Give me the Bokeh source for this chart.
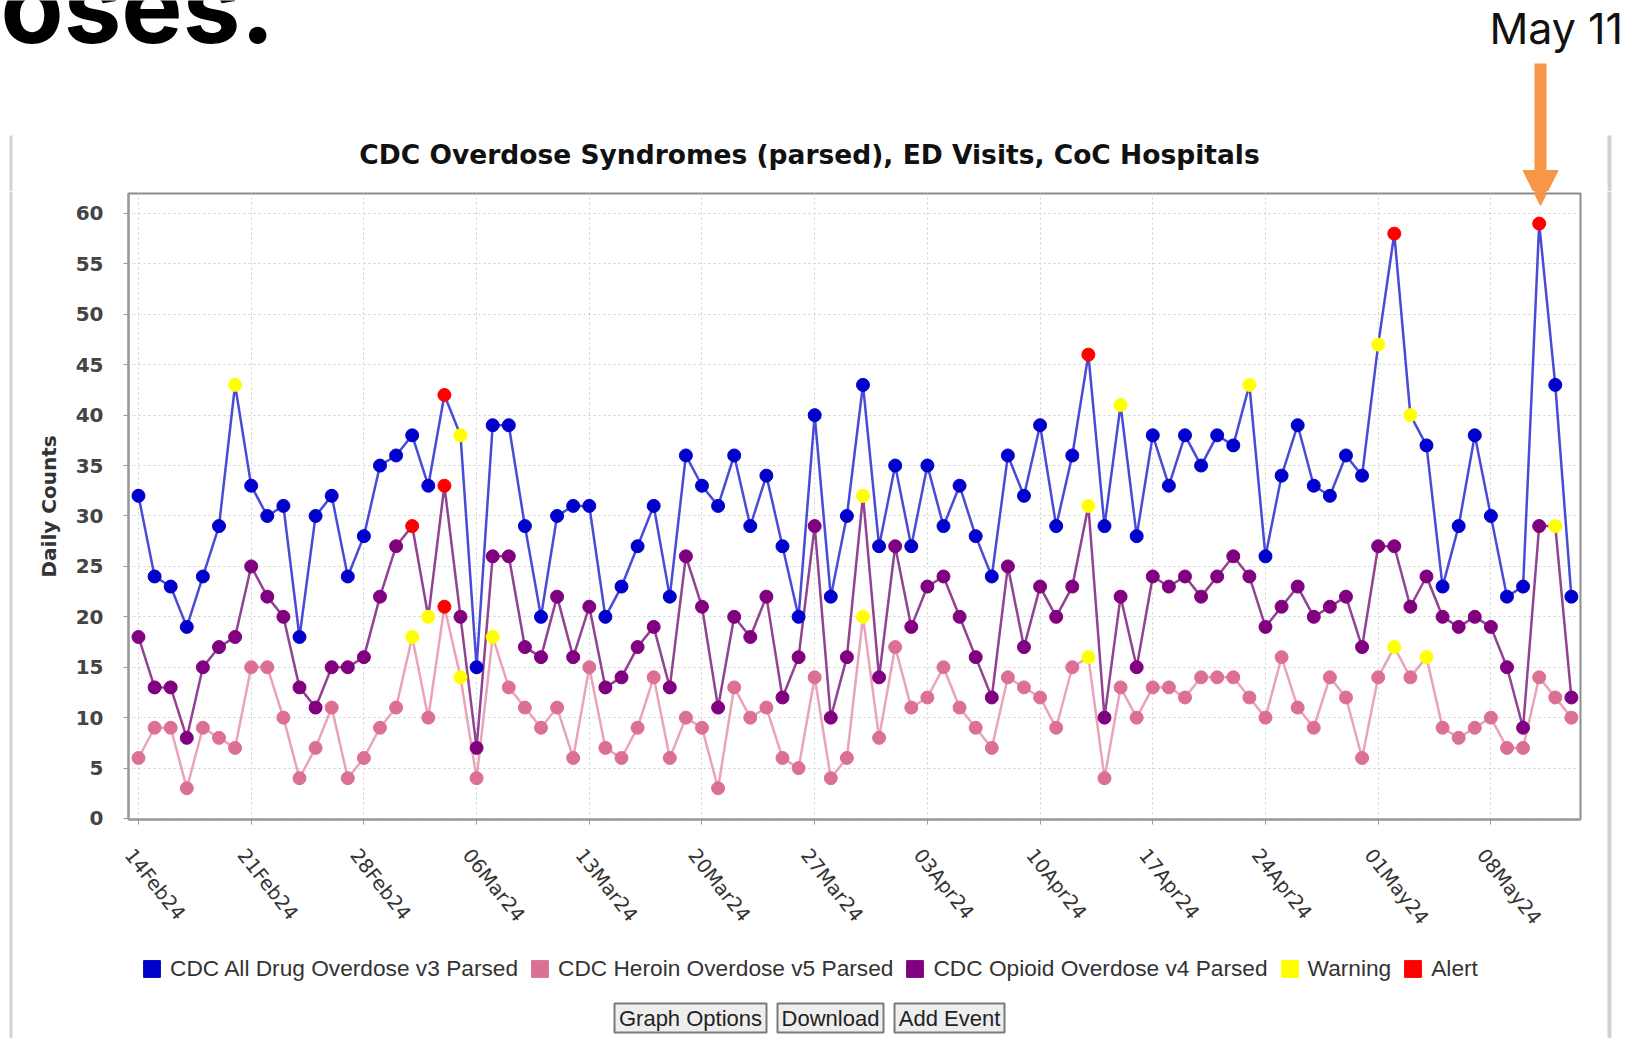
import pandas as pd
from bokeh.plotting import figure
from bokeh.layouts import column, row
from bokeh.models import (FixedTicker, Arrow, NormalHead, Legend, LegendItem,
                          ColumnDataSource, Range1d, LinearAxis, CustomJSTickFormatter,
                          CustomLabelingPolicy)
from bokeh.core.properties import value
from bokeh.embed import file_html
from bokeh.resources import INLINE

# ---------------- data ----------------
start_date = "2024-02-14"

all_drug = [32, 24, 23, 19, 24, 29, 43, 33, 30, 31, 18, 30, 32, 24, 28, 35,
            36, 38, 33, 42, 38, 15, 39, 39, 29, 20, 30, 31, 31, 20, 23,
            27, 31, 22, 36, 33, 31, 36, 29, 34, 27, 20, 40, 22, 30, 43,
            27, 35, 27, 35, 29, 33, 28, 24, 36, 32, 39, 29, 36, 46, 29,
            41, 28, 38, 33, 38, 35, 38, 37, 43, 26, 34, 39, 33, 32, 36,
            34, 47, 58, 40, 37, 23, 29, 38, 30, 22, 23, 59, 43, 22]

heroin = [6, 9, 9, 3, 9, 8, 7, 15, 15, 10, 4, 7, 11, 4, 6, 9,
          11, 18, 10, 21, 14, 4, 18, 13, 11, 9, 11, 6, 15, 7, 6,
          9, 14, 6, 10, 9, 3, 13, 10, 11, 6, 5, 14, 4, 6, 20,
          8, 17, 11, 12, 15, 11, 9, 7, 14, 13, 12, 9, 15, 16, 4,
          13, 10, 13, 13, 12, 14, 14, 14, 12, 10, 16, 11, 9, 14, 12,
          6, 14, 17, 14, 16, 9, 8, 9, 10, 7, 7, 14, 12, 10]

opioid = [18, 13, 13, 8, 15, 17, 18, 25, 22, 20, 13, 11, 15, 15, 16, 22,
          27, 29, 20, 33, 20, 7, 26, 26, 17, 16, 22, 16, 21, 13, 14,
          17, 19, 13, 26, 21, 11, 20, 18, 22, 12, 16, 29, 10, 16, 32,
          14, 27, 19, 23, 24, 20, 16, 12, 25, 17, 23, 20, 23, 31, 10,
          22, 15, 24, 23, 24, 22, 24, 26, 24, 19, 21, 23, 20, 21, 22,
          17, 27, 27, 21, 24, 20, 19, 20, 19, 15, 9, 29, 29, 12]

all_drug_alerts = ["2024-03-04", "2024-04-13", "2024-05-02", "2024-05-11"]
all_drug_warnings = ["2024-02-20", "2024-03-05", "2024-04-15", "2024-04-23", "2024-05-01", "2024-05-03"]
opioid_alerts = ["2024-03-02", "2024-03-04"]
opioid_warnings = ["2024-03-03", "2024-03-30", "2024-04-13", "2024-05-12"]
heroin_alerts = ["2024-03-04"]
heroin_warnings = ["2024-03-02", "2024-03-05", "2024-03-07", "2024-03-30", "2024-04-13", "2024-05-02", "2024-05-04"]

x_tick_dates = ["2024-02-14", "2024-02-21", "2024-02-28", "2024-03-06", "2024-03-13",
                "2024-03-20", "2024-03-27", "2024-04-03", "2024-04-10", "2024-04-17",
                "2024-04-24", "2024-05-01", "2024-05-08"]
y_ticks = [0, 5, 10, 15, 20, 25, 30, 35, 40, 45, 50, 55, 60]

legend_labels = ["CDC All Drug Overdose v3 Parsed", "CDC Heroin Overdose v5 Parsed",
                 "CDC Opioid Overdose v4 Parsed", "Warning", "Alert"]
title_text = "CDC Overdose Syndromes (parsed), ED Visits, CoC Hospitals"
y_label = "Daily Counts"
button_labels = ["Graph Options", "Download", "Add Event"]
annotation_text = "May 11"
heading_fragment = "oses."

# ---------------- styles / layout ----------------
BLUE_M, BLUE_L = "#0000cc", "#4a4ad8"
PINK_M, PINK_L = "#db7093", "#eaa3b9"
PURP_M, PURP_L = "#800080", "#924292"
WARN, ALERT = "#ffff00", "#ff0000"
ORANGE = "#f79646"
BORDER = "#d2d2d2"

W, H = 1626, 1038
TOP_H = 191                 # slide header strip
LEFT_W, RIGHT_X = 13, 1606  # chart panel column
CH_W = RIGHT_X - LEFT_W
CH_H = 752
BOT_H = H - TOP_H - CH_H
FL, FR, FT, FB = 128, 1580, 193, 819  # plot frame edges (page px)
ARROW_X = 1540
DAY_MS = 86400000
LABEL_SHIFT = -0.6 * DAY_MS  # date labels start a little left of their tick


def blank(width, height, xr, yr):
    f = figure(width=width, height=height, x_range=xr, y_range=yr,
               output_backend="svg", toolbar_location=None,
               x_axis_location=None, y_axis_location=None, min_border=0)
    f.grid.visible = False
    f.outline_line_color = None
    f.background_fill_color = "white"
    f.border_fill_color = "white"
    return f


# ---------- top strip (page px as data units, y downwards) ----------
top = blank(W, TOP_H, Range1d(0, W), Range1d(TOP_H, 0))
top.text(x=[0], y=[5], text=[heading_fragment], text_font=value("Inter"),
         text_font_style="bold", text_font_size="103px", text_color="#000000",
         text_align="left", text_baseline="alphabetic")
top.text(x=[1489], y=[27], text=[annotation_text], text_font=value("Inter"),
         text_font_size="43px", text_color="#111111",
         text_align="left", text_baseline="alphabetic")
top.text(x=[809], y=[154], text=[title_text], text_font=value("DejaVu Sans"),
         text_font_style="bold", text_font_size="26.5px", text_color="#111111",
         text_align="center", text_baseline="middle")
top.quad(left=[9, 1607], right=[12, 1611], top=[135, 135], bottom=[TOP_H, TOP_H],
         fill_color=BORDER, line_color=None)
top.add_layout(Arrow(x_start=ARROW_X, y_start=63, x_end=ARROW_X, y_end=205,
                     line_color=ORANGE, line_width=12,
                     end=NormalHead(size=35, fill_color=ORANGE, line_color=ORANGE)))

# ---------- chart ----------
dates = pd.date_range(start_date, periods=len(all_drug), freq="D")
x0 = dates[0] - pd.Timedelta(hours=14.9)
x1 = dates[-1] + pd.Timedelta(hours=13.6)

p = figure(width=CH_W, height=CH_H, x_axis_type="datetime",
           x_range=(x0, x1), y_range=(-0.1, 61.98),
           output_backend="svg", toolbar_location=None,
           min_border_left=FL - LEFT_W, min_border_right=RIGHT_X - FR,
           min_border_top=FT - TOP_H, min_border_bottom=CH_H - (FB - TOP_H))
p.background_fill_color = "white"
p.border_fill_color = "white"
p.outline_line_color = "#8c8c8c"
p.outline_line_width = 2

ticks_ms = [pd.Timestamp(d).value / 1e6 for d in x_tick_dates]
xa = p.xaxis[0]
xa.ticker = FixedTicker(ticks=ticks_ms)
# this axis carries the line and tick marks only; the dates are on label_axis
xa.major_label_policy = CustomLabelingPolicy(code="return new Set()")
xa.major_label_text_font_size = "1px"
xa.major_label_standoff = 0

month_js = """
const months = ["Jan","Feb","Mar","Apr","May","Jun","Jul","Aug","Sep","Oct","Nov","Dec"];
const d = new Date(tick + shift);
const dd = String(d.getUTCDate()).padStart(2, "0");
return dd + months[d.getUTCMonth()] + String(d.getUTCFullYear()).slice(2);
"""
label_axis = LinearAxis(ticker=FixedTicker(ticks=[t + LABEL_SHIFT for t in ticks_ms]),
                        formatter=CustomJSTickFormatter(args=dict(shift=-LABEL_SHIFT), code=month_js),
                        axis_line_color=None, major_tick_line_color=None,
                        minor_tick_line_color=None,
                        major_label_orientation=-0.9,
                        major_label_text_font="DejaVu Sans",
                        major_label_text_font_size="19.5px",
                        major_label_text_color="#333333",
                        major_label_standoff=16)
p.add_layout(label_axis, "below")

ya = p.yaxis[0]
ya.ticker = FixedTicker(ticks=y_ticks)
ya.major_label_text_font = "DejaVu Sans"
ya.major_label_text_font_style = "bold"
ya.major_label_text_font_size = "20px"
ya.major_label_text_color = "#444444"
ya.major_label_standoff = 20
ya.axis_label = y_label
ya.axis_label_text_font = "DejaVu Sans"
ya.axis_label_text_font_style = "bold"
ya.axis_label_text_font_size = "20px"
ya.axis_label_text_color = "#333333"
ya.axis_label_standoff = 12
for ax in (xa, ya):
    ax.axis_line_color = "#999999"
    ax.axis_line_width = 2
    ax.major_tick_line_color = "#999999"
    ax.major_tick_out = 5
    ax.major_tick_in = 0
    ax.minor_tick_line_color = None
p.grid.grid_line_color = "#cfcfcf"
p.grid.grid_line_dash = "2 3"
p.grid.grid_line_width = 1


def marker_colors(base, alerts, warns):
    a = set(pd.to_datetime(alerts))
    w = set(pd.to_datetime(warns))
    return [ALERT if d in a else (WARN if d in w else base) for d in dates]


series = [
    (heroin, PINK_L, PINK_M, heroin_alerts, heroin_warnings),
    (opioid, PURP_L, PURP_M, opioid_alerts, opioid_warnings),
    (all_drug, BLUE_L, BLUE_M, all_drug_alerts, all_drug_warnings),
]
for vals, lc, mc, al, wa in series:
    p.line(dates, vals, line_color=lc, line_width=2.5)
for vals, lc, mc, al, wa in series:
    src = ColumnDataSource(dict(x=dates, y=vals, c=marker_colors(mc, al, wa)))
    p.scatter("x", "y", source=src, size=13, fill_color="c", line_color="c")

# tip of the "May 11" arrow that reaches into the plot frame
p.add_layout(Arrow(x_start=ARROW_X - LEFT_W, y_start=-40, x_end=ARROW_X - LEFT_W, y_end=205 - TOP_H,
                   start_units="canvas", end_units="canvas",
                   line_color=ORANGE, line_width=12,
                   end=NormalHead(size=35, fill_color=ORANGE, line_color=ORANGE)))

# ---------- bottom strip: legend + buttons (page px as data units) ----------
# (its frame is aligned with the chart frame by the column layout)
bot = blank(CH_W, BOT_H, Range1d(FL, FR), Range1d(H, H - BOT_H))
legend_colors = [BLUE_M, PINK_M, PURP_M, WARN, ALERT]
items = []
for lab, col in zip(legend_labels, legend_colors):
    # swatch-only renderer, drawn off-screen; only its legend entry shows
    r = bot.quad(left=[-100], right=[-90], top=[-100], bottom=[-90],
                 fill_color=col, line_color=col)
    items.append(LegendItem(label=lab, renderers=[r]))
legend = Legend(items=items, orientation="horizontal", location=(13, 56),
                glyph_width=21, glyph_height=21, label_height=21, label_standoff=8,
                spacing=11, padding=0, margin=0, border_line_color=None,
                background_fill_alpha=0,
                label_text_font="Liberation Sans", label_text_font_size="22.7px",
                label_text_color="#333333", label_text_baseline="middle")
bot.add_layout(legend, "center")

btn_left = [614, 777, 894]
btn_right = [766, 883, 1004]
bot.quad(left=btn_left, right=btn_right, top=[1003] * 3, bottom=[1032] * 3,
         fill_color="#eeeeee", line_color="#7a7a7a", line_width=2)
bot.text(x=[(a + b) / 2 for a, b in zip(btn_left, btn_right)], y=[1018] * 3,
         text=button_labels, text_font=value("Liberation Sans"),
         text_font_size="22px", text_color="#222222",
         text_align="center", text_baseline="middle")

# ---------- side borders of the panel ----------
left_strip = blank(LEFT_W, H - TOP_H, Range1d(0, LEFT_W), Range1d(0, 1))
left_strip.quad(left=[9], right=[12], top=[1], bottom=[0], fill_color=BORDER, line_color=None)
right_strip = blank(W - RIGHT_X, H - TOP_H, Range1d(RIGHT_X, W), Range1d(0, 1))
right_strip.quad(left=[1607], right=[1611], top=[1], bottom=[0], fill_color=BORDER, line_color=None)

layout = column(top, row(left_strip, column(p, bot), right_strip))

open("out.html", "w").write(file_html(layout, INLINE))
